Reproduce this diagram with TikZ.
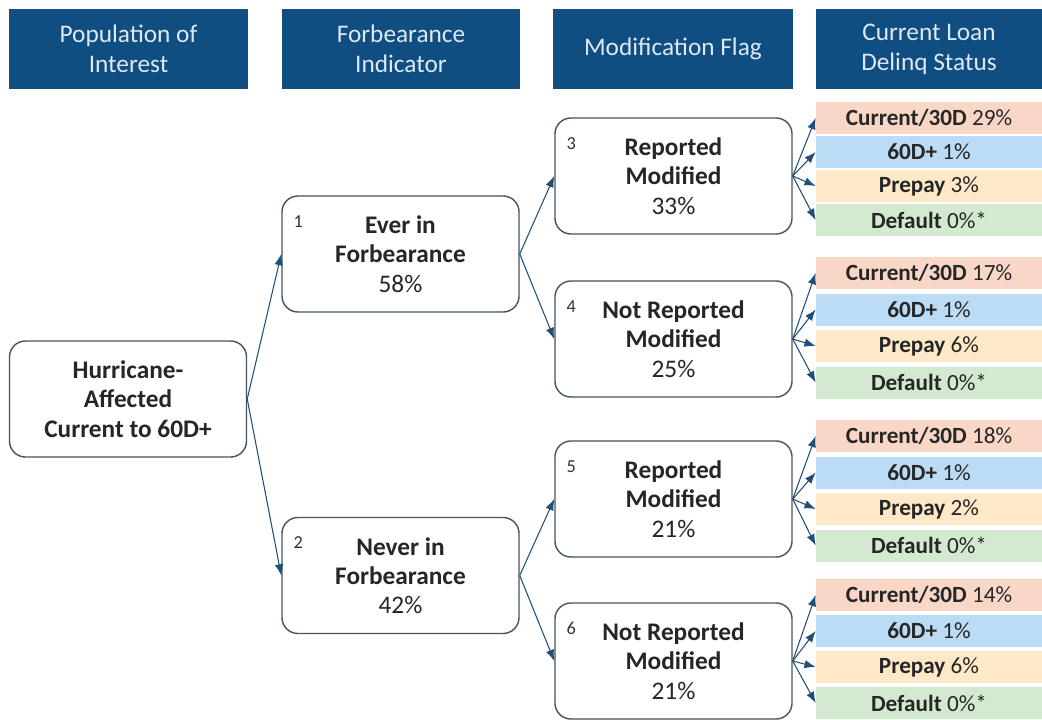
\documentclass[tikz,border=0pt]{standalone}
\usepackage{fontspec}
\setmainfont{Carlito}
\usetikzlibrary{shapes,calc,arrows.meta}

\definecolor{hdrblue}{RGB}{16,77,128}
\definecolor{hdrtext}{RGB}{220,233,245}
\definecolor{linkblue}{RGB}{31,78,121}
\definecolor{boxline}{RGB}{68,84,100}
\definecolor{curfill}{RGB}{248,215,199}
\definecolor{dqfill}{RGB}{187,220,244}
\definecolor{ppfill}{RGB}{253,233,200}
\definecolor{dffill}{RGB}{212,234,208}

\begin{document}
\begin{tikzpicture}[x=0.025cm, y=-0.025cm,
  hdr/.style={fill=hdrblue, text=hdrtext, minimum height=2cm, align=center, inner sep=0pt,
    font=\fontsize{18}{21.5}\selectfont},
  tnode/.style={draw=boxline, line width=1pt, rounded corners=0.4cm, fill=white, align=center,
    minimum width=5.925cm, minimum height=2.9cm, text=black!85, font=\fontsize{18}{20.8}\selectfont},
  res/.style={minimum width=5.65cm, minimum height=0.8cm, inner sep=0pt, text=black!85,
    font=\fontsize{16.5}{18}\selectfont},
  link/.style={draw=linkblue, line width=0.75pt, -{Latex[length=8pt,width=6pt]}},
]

  \useasboundingbox (0,0) rectangle (1042,719);

  % column headers
  \draw (128.5,49) node (h1) [hdr, minimum width=5.975cm] {Population of\\Interest};
  \draw (401,49) node (h2) [hdr, minimum width=5.95cm] {Forbearance\\Indicator};
  \draw (673,49) node (h3) [hdr, minimum width=6cm] {Modification Flag};
  \draw (929,49) node (h4) [hdr, minimum width=5.65cm] {Current Loan\\Delinq Status};

  % tree
  \draw (128,399) node (root) [tnode] {\textbf{Hurricane-}\\\textbf{Affected}\\\textbf{Current to 60D+}};

  \draw (400.5,254) node (n1) [tnode] {\textbf{Ever in}\\\textbf{Forbearance}\\58\%};
  \draw (400.5,575.5) node (n2) [tnode] {\textbf{Never in}\\\textbf{Forbearance}\\42\%};

  \draw (673.5,176) node (n3) [tnode] {\textbf{Reported}\\\textbf{Modified}\\33\%};
  \draw (673.5,339) node (n4) [tnode] {\textbf{Not Reported}\\\textbf{Modified}\\25\%};
  \draw (673.5,499) node (n5) [tnode] {\textbf{Reported}\\\textbf{Modified}\\21\%};
  \draw (673.5,661) node (n6) [tnode] {\textbf{Not Reported}\\\textbf{Modified}\\21\%};

  \foreach \n in {1,...,6}
    \node (k\n) [font=\fontsize{13}{15}\selectfont, text=black!80] at ($(n\n.north west)+(17,26)$) {\n};

  \draw[link, ] (root.east) -- (n1.west);
  \draw[link, ] (root.east) -- (n2.west);
  \draw[link, ] (n1.east) -- (n3.west);
  \draw[link, ] (n1.east) -- (n4.west);
  \draw[link, ] (n2.east) -- (n5.west);
  \draw[link, ] (n2.east) -- (n6.west);

  % outcome stacks
  \foreach \n/\yy/\d/\cur/\pre in {3/118/34/29/3, 4/273/36.5/17/6, 5/436/36.5/18/2, 6/595/36/14/6} {
    \node (cur\n) [res, fill=curfill] at (929,\yy) {\textbf{Current/30D} \cur\%};
    \node (dq\n) [res, fill=dqfill] at (929,\yy+\d) {\textbf{60D+} 1\%};
    \node (pp\n) [res, fill=ppfill] at (929,\yy+2*\d) {\textbf{Prepay} \pre\%};
    \node (df\n) [res, fill=dffill] at (929,\yy+3*\d) {\textbf{Default} 0\%*};
    \foreach \o in {cur,dq,pp,df}
      \draw[link, ] (n\n.east) -- (\o\n.west);
  }

\end{tikzpicture}
\end{document}
